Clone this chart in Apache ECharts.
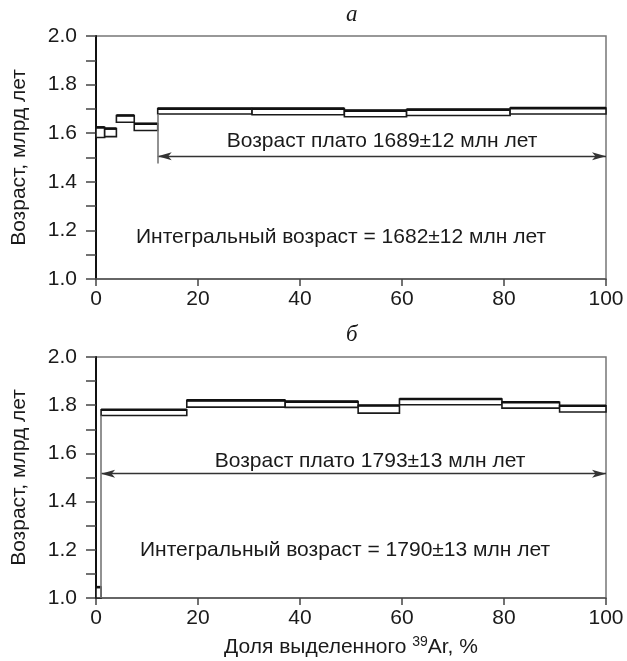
<!DOCTYPE html>
<html>
<head>
<meta charset="utf-8">
<script src="https://cdn.jsdelivr.net/npm/echarts@6/dist/echarts.min.js"></script>
<style>
  html, body { margin: 0; padding: 0; background: #fff; }
  #chart { width: 627px; height: 661px; }
</style>
</head>
<body>
<div id="chart"></div>
<script>
// Step edges along the cumulative 39Ar release axis (%), and the lower/upper
// bounds of each step's age (billion years).
const edgesA = [0, 1.7, 4.0, 7.5, 12.1, 30.6, 48.7, 60.9, 81.2, 100];
const lowA   = [1.582, 1.586, 1.645, 1.611, 1.679, 1.676, 1.668, 1.673, 1.679];
const highA  = [1.624, 1.619, 1.673, 1.639, 1.701, 1.701, 1.693, 1.697, 1.703];

const edgesB = [0, 1.0, 17.8, 37.1, 51.4, 59.5, 79.6, 90.9, 100];
const lowB   = [1.0, 1.757, 1.792, 1.791, 1.767, 1.802, 1.788, 1.772];
const highB  = [1.045, 1.781, 1.820, 1.815, 1.799, 1.826, 1.812, 1.798];

// Plateau span: start %, end %, level of the arrow, lower end of the start marker
const plateauA = [12.1, 100, 1.505, 1.475];
const plateauB = [1.0, 100, 1.516, 1.0];

const plateauTextA = 'Возраст плато 1689±12 млн лет';
const integralTextA = 'Интегральный возраст = 1682±12 млн лет';
const plateauTextB = 'Возраст плато 1793±13 млн лет';
const integralTextB = 'Интегральный возраст = 1790±13 млн лет';

const xTicks = [0, 20, 40, 60, 80, 100];
const yTicks = [1.0, 1.2, 1.4, 1.6, 1.8, 2.0];

const FONT = '"Liberation Sans", Arial, sans-serif';
const TXT = '#1a1a1a';
const FS = 21;

function stepRows(edges, low, high) {
  return low.map((lo, i) => [edges[i], edges[i + 1], lo, high[i]]);
}

function renderStep(params, api) {
  const x0 = api.value(0), x1 = api.value(1);
  const lo = api.value(2), hi = api.value(3);
  const tl = api.coord([x0, hi]);
  const br = api.coord([x1, lo]);
  return {
    type: 'group',
    children: [
      {
        type: 'rect',
        shape: { x: tl[0], y: tl[1], width: br[0] - tl[0], height: br[1] - tl[1] },
        style: { fill: '#fff', stroke: '#1a1a1a', lineWidth: 1.6 }
      },
      {
        type: 'line',
        shape: { x1: tl[0], y1: tl[1], x2: br[0], y2: tl[1] },
        style: { stroke: '#111', lineWidth: 2.6 }
      }
    ]
  };
}

function plateauMarks(p, low, edges) {
  // index of the step the plateau starts at
  const k = edges.indexOf(p[0]);
  return {
    silent: true,
    animation: false,
    label: { show: false },
    emphasis: { disabled: true },
    data: [
      [
        { coord: [p[0], p[2]], symbol: 'arrow', symbolSize: [6, 14],
          lineStyle: { color: '#333', width: 1.3, type: 'solid' } },
        { coord: [p[1], p[2]], symbol: 'arrow', symbolSize: [6, 14] }
      ],
      [
        { coord: [p[0], low[k]], symbol: 'none',
          lineStyle: { color: '#777', width: 1.6, type: 'solid' } },
        { coord: [p[0], p[3]], symbol: 'none' }
      ]
    ]
  };
}

function yAxisFor(gridIndex) {
  return {
    type: 'value', gridIndex, min: 1.0, max: 2.0, interval: 0.1,
    name: 'Возраст, млрд лет', nameLocation: 'middle', nameGap: 66,
    nameTextStyle: { fontFamily: FONT, fontSize: FS, color: TXT },
    axisLine: { show: true, lineStyle: { color: '#111', width: 2 } },
    axisTick: { show: true, inside: false, length: 10, lineStyle: { color: '#444', width: 1.5 } },
    axisLabel: {
      fontFamily: FONT, fontSize: FS, color: TXT, margin: 19,
      formatter: v => {
        const hit = yTicks.find(t => Math.abs(t - v) < 1e-6);
        return hit !== undefined ? hit.toFixed(1) : '';
      }
    },
    splitLine: { show: false }
  };
}

function xAxisFor(gridIndex, withName) {
  const ax = {
    type: 'value', gridIndex, min: xTicks[0], max: xTicks[xTicks.length - 1], interval: 20,
    axisLine: { show: true, lineStyle: { color: '#555', width: 1.5 } },
    axisTick: { show: true, inside: false, length: 7, lineStyle: { color: '#444', width: 1.5 } },
    axisLabel: { fontFamily: FONT, fontSize: FS, color: TXT, margin: 10 },
    splitLine: { show: false }
  };
  if (withName) {
    ax.name = '{t|Доля выделенного }{s|39}{t|Ar, %}';
    ax.nameLocation = 'middle';
    ax.nameGap = 37;
    ax.nameTextStyle = {
      rich: {
        t: { fontFamily: FONT, fontSize: FS, color: TXT, lineHeight: 24 },
        s: { fontFamily: FONT, fontSize: 14, color: TXT, lineHeight: 24, verticalAlign: 'top' }
      }
    };
  }
  return ax;
}

const chart = echarts.init(document.getElementById('chart'), null, { renderer: 'canvas' });

chart.setOption({
  animation: false,
  backgroundColor: '#fff',
  grid: [
    { left: 96, right: 21, top: 36, height: 243, show: true, borderColor: '#777', borderWidth: 1.5, backgroundColor: 'transparent' },
    { left: 96, right: 21, top: 357, height: 241, show: true, borderColor: '#777', borderWidth: 1.5, backgroundColor: 'transparent' }
  ],
  xAxis: [xAxisFor(0, false), xAxisFor(1, true)],
  yAxis: [yAxisFor(0), yAxisFor(1)],
  graphic: [
    { type: 'text', left: 346, top: 3, style: { text: 'а', font: 'italic 23px "Liberation Serif", serif', fill: TXT } },
    { type: 'text', left: 346, top: 323, style: { text: 'б', font: 'italic 23px "Liberation Serif", serif', fill: TXT } },
    { type: 'text', x: 382, y: 141, style: { text: plateauTextA, font: FS + 'px ' + FONT, fill: TXT, align: 'center', verticalAlign: 'middle' } },
    { type: 'text', x: 341, y: 237, style: { text: integralTextA, font: FS + 'px ' + FONT, fill: TXT, align: 'center', verticalAlign: 'middle' } },
    { type: 'text', x: 370, y: 461, style: { text: plateauTextB, font: FS + 'px ' + FONT, fill: TXT, align: 'center', verticalAlign: 'middle' } },
    { type: 'text', x: 345, y: 550, style: { text: integralTextB, font: FS + 'px ' + FONT, fill: TXT, align: 'center', verticalAlign: 'middle' } }
  ],
  series: [
    {
      type: 'custom', xAxisIndex: 0, yAxisIndex: 0,
      renderItem: renderStep,
      encode: { x: [0, 1], y: [2, 3] },
      data: stepRows(edgesA, lowA, highA),
      markLine: plateauMarks(plateauA, lowA, edgesA),
      z: 3
    },
    {
      type: 'custom', xAxisIndex: 1, yAxisIndex: 1,
      renderItem: renderStep,
      encode: { x: [0, 1], y: [2, 3] },
      data: stepRows(edgesB, lowB, highB),
      markLine: plateauMarks(plateauB, lowB, edgesB),
      z: 3
    }
  ]
});
</script>
</body>
</html>
